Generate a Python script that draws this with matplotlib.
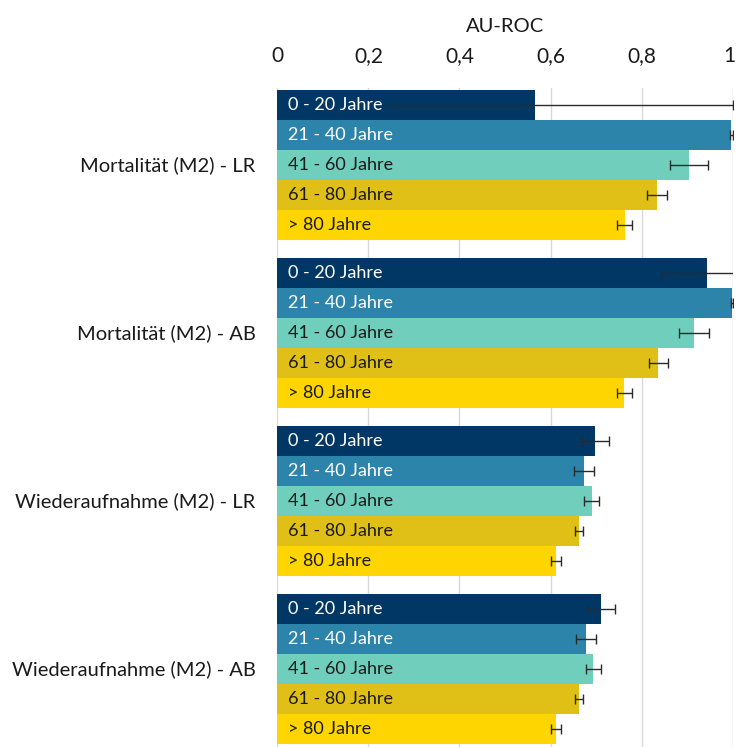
import matplotlib
matplotlib.use("Agg")
import matplotlib.pyplot as plt
import matplotlib.transforms as mtransforms
import numpy as np

plt.rcParams['font.family'] = ['Lato', 'DejaVu Sans']

groups = ["Mortalität (M2) - LR", "Mortalität (M2) - AB",
          "Wiederaufnahme (M2) - LR", "Wiederaufnahme (M2) - AB"]
ages = ["0 - 20 Jahre", "21 - 40 Jahre", "41 - 60 Jahre", "61 - 80 Jahre", "> 80 Jahre"]

auroc_mort_lr = [0.566, 0.997, 0.904, 0.833, 0.763]
err_mort_lr = [0.434, 0.003, 0.042, 0.022, 0.016]
auroc_mort_ab = [0.943, 0.998, 0.915, 0.837, 0.762]
err_mort_ab = [0.100, 0.002, 0.033, 0.021, 0.016]
auroc_wied_lr = [0.698, 0.673, 0.690, 0.662, 0.612]
err_wied_lr = [0.030, 0.022, 0.016, 0.009, 0.011]
auroc_wied_ab = [0.711, 0.678, 0.694, 0.662, 0.612]
err_wied_ab = [0.030, 0.021, 0.017, 0.009, 0.011]

values = [auroc_mort_lr, auroc_mort_ab, auroc_wied_lr, auroc_wied_ab]
errors = [err_mort_lr, err_mort_ab, err_wied_lr, err_wied_ab]

xticks = [0, 0.2, 0.4, 0.6, 0.8, 1.0]
xticklabels = ["0", "0,2", "0,4", "0,6", "0,8", "1"]

colors = ["#003764", "#2C84AA", "#6FCFBC", "#E0C016", "#FFD500"]
text_colors = ["white", "white", "#1a1a1a", "#1a1a1a", "#1a1a1a"]

W, H = 737, 747
fig = plt.figure(figsize=(W / 100, H / 100), dpi=100)
x0, x1 = 277.3, 732.7
ytop, ybot = 88, 747
ax = fig.add_axes([x0 / W, 1 - ybot / H, (x1 - x0) / W, (ybot - ytop) / H])

group_step = 5.6
bar_px = 30.0
for g, (vals, errs) in enumerate(zip(values, errors)):
    for i, (v, e) in enumerate(zip(vals, errs)):
        yc = g * group_step + i + 0.5
        ax.barh(yc, v, height=1.0, color=colors[i], zorder=2)
        ax.errorbar(v, yc, xerr=e, fmt='none', ecolor='#2a2a2a',
                    elinewidth=1.0, capsize=3.5, capthick=1.0, zorder=3)
        ax.text(0.024, yc, ages[i], ha='left', va='center', fontsize=13,
                color=text_colors[i], zorder=4,
                bbox=dict(boxstyle='square,pad=0.15', fc=colors[i], ec='none'))
    ax.text(-0.048, g * group_step + 2.5, groups[g], ha='right', va='center',
            fontsize=14.5, color='#1a1a1a', transform=ax.transData, clip_on=False)

top_units = (90 - ytop) / bar_px
bot_units = (ybot - 744) / bar_px
ax.set_ylim(3 * group_step + 5 + bot_units, -top_units)
ax.set_xlim(0, 1)
ax.set_yticks([])
ax.xaxis.tick_top()
ax.set_xticks(xticks)
ax.set_xticklabels(xticklabels, fontsize=15, color='#1a1a1a')
ax.tick_params(axis='x', length=0, pad=16)
ax.xaxis.set_label_position('top')
ax.set_xlabel("AU-ROC", fontsize=14.5, color='#1a1a1a', labelpad=10)
ax.grid(axis='x', color='#D9D9D9', linewidth=1, zorder=0)
ax.set_axisbelow(True)
for s in ['top', 'right', 'bottom', 'left']:
    ax.spines[s].set_visible(False)

# nudge the last tick label so it stays inside the figure
last = ax.xaxis.get_major_ticks()[-1].label2
last.set_transform(last.get_transform() +
                   mtransforms.ScaledTranslation(-3 / 100, 0, fig.dpi_scale_trans))

fig.savefig("out.png", dpi=100)
